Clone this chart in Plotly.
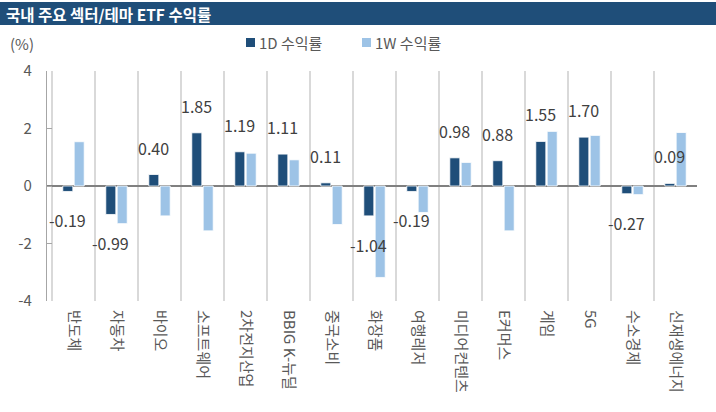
import plotly.graph_objects as go

categories = ["반도체", "자동차", "바이오", "소프트웨어", "2차전지산업", "BBIG K-뉴딜", "중국소비",
              "화장품", "여행레저", "미디어컨텐츠", "E커머스", "게임", "5G", "수소경제", "신재생에너지"]
ret_1d = [-0.19, -0.99, 0.40, 1.85, 1.19, 1.11, 0.11, -1.04, -0.19, 0.98, 0.88, 1.55, 1.70, -0.27, 0.09]
ret_1w = [1.54, -1.31, -1.04, -1.56, 1.14, 0.91, -1.34, -3.18, -0.92, 0.82, -1.56, 1.90, 1.76, -0.30, 1.86]
series_names = ["1D 수익률", "1W 수익률"]
y_ticks = [4, 2, 0, -2, -4]

C1 = "#1F4E79"
C2 = "#9DC3E6"
FONT = "Noto Sans CJK KR"

W, H = 716, 412
ml, mr, mt, mb = 47, 19, 71, 111
pw, ph = W - ml - mr, H - mt - mb

def py(p):  # pixel y (from top) to paper y
    return 1 - (p - mt) / ph

def px_(p):  # pixel x to paper x
    return (p - ml) / pw

fig = go.Figure()
fig.add_bar(x=categories, y=ret_1d, name=series_names[0], marker=dict(color=C1, line=dict(color="white", width=0.8)))
fig.add_bar(x=categories, y=ret_1w, name=series_names[1], marker=dict(color=C2, line=dict(color="white", width=0.8)))

annotations = []
for c, v in zip(categories, ret_1d):
    annotations.append(dict(
        x=c, y=v, xref="x", yref="y", text=f"{v:.2f}", showarrow=False,
        xshift=-6, yshift=13 if v >= 0 else -15,
        yanchor="bottom" if v >= 0 else "top",
        font=dict(family=FONT, size=16, color="#404040")))

annotations.append(dict(x=px_(8), y=py(43), xref="paper", yref="paper", text="(%)", showarrow=False,
                        xanchor="left", yanchor="middle", font=dict(family=FONT, size=15, color="#595959")))
annotations.append(dict(x=px_(4), y=py(14), xref="paper", yref="paper", text="<b>국내 주요 섹터/테마 ETF 수익률</b>",
                        showarrow=False, xanchor="left", yanchor="middle",
                        font=dict(family=FONT, size=15.5, color="white")))

shapes = [dict(type="rect", xref="paper", yref="paper", x0=px_(0), x1=px_(W), y0=py(25), y1=py(2),
               fillcolor="#1F4E79", line=dict(width=0), layer="below")]

# manual legend (Excel style: small square + text)
legend_x = [246, 362]
for name, col, lx in zip(series_names, [C1, C2], legend_x):
    shapes.append(dict(type="rect", xref="paper", yref="paper", x0=px_(lx), x1=px_(lx + 9),
                       y0=py(47), y1=py(38), fillcolor=col, line=dict(width=0)))
    annotations.append(dict(x=px_(lx + 11), y=py(42.5), xref="paper", yref="paper", text=name, showarrow=False,
                            xanchor="left", yanchor="middle", font=dict(family=FONT, size=15, color="#595959")))

fig.update_layout(
    width=W, height=H,
    margin=dict(l=ml, r=mr, t=mt, b=mb),
    paper_bgcolor="white", plot_bgcolor="white",
    barmode="group", bargap=0.47, bargroupgap=0.12,
    font=dict(family=FONT, color="#595959"),
    showlegend=False,
    annotations=annotations, shapes=shapes,
    xaxis=dict(type="category", tickson="boundaries", showgrid=True, gridcolor="#D9D9D9", gridwidth=1.5,
               tickangle=90, tickfont=dict(family=FONT, size=15, color="#595959"),
               showline=False, ticks="", zeroline=False, automargin=False, ticklabelstandoff=8),
    yaxis=dict(range=[-4, 4], tickvals=y_ticks, ticktext=[str(t) for t in y_ticks], showgrid=False,
               showline=True, linecolor="#A6A6A6", linewidth=1.2, ticks="inside", ticklen=5, tickcolor="#A6A6A6",
               zeroline=True, zerolinecolor="#808080", zerolinewidth=1.5, automargin=False,
               tickfont=dict(family=FONT, size=15, color="#595959"), ticklabelstandoff=11),
)

fig.write_html("out.html", config={"displayModeBar": False},
               post_script="document.body.style.margin='0';document.body.style.padding='0';")
